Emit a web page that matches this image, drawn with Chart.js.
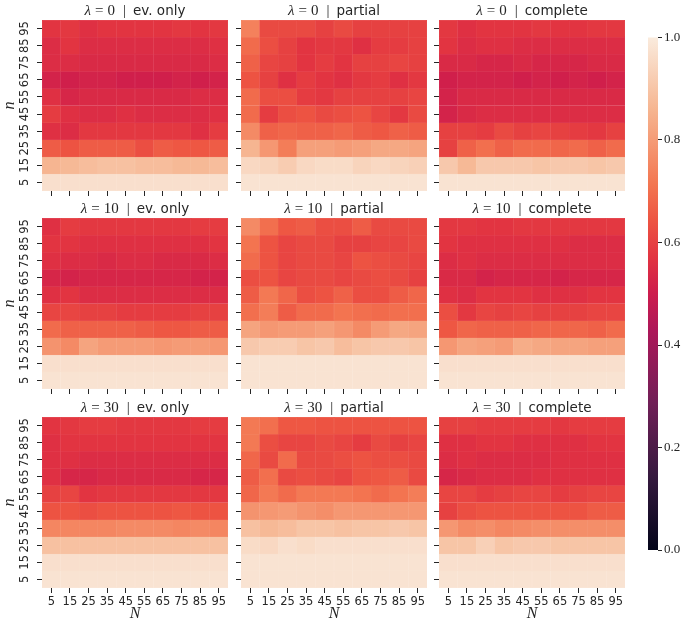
<!DOCTYPE html>
<html>
<head>
<meta charset="utf-8">
<script src="https://cdn.jsdelivr.net/npm/chart.js@4.4.0/dist/chart.umd.min.js"></script>
<style>
  html, body { margin: 0; padding: 0; background: #fff; overflow: hidden; }
  #wrap { position: relative; width: 685px; height: 629px; }
  canvas { position: absolute; }
</style>
</head>
<body>
<div id="wrap"></div>
<script>
// N on the x axis, n on the y axis (rows listed top to bottom: 95 ... 5)
const bigN = ['5', '15', '25', '35', '45', '55', '65', '75', '85', '95'];
const smallN = ['95', '85', '75', '65', '55', '45', '35', '25', '15', '5'];
const lambdas = ['0', '10', '30'];
const modes = ['ev. only', 'partial', 'complete'];

// λ = 0
const evOnly0 = [
  [0.57, 0.58, 0.56, 0.57, 0.57, 0.57, 0.57, 0.58, 0.57, 0.58],
  [0.55, 0.57, 0.55, 0.55, 0.55, 0.55, 0.55, 0.55, 0.55, 0.56],
  [0.55, 0.55, 0.54, 0.54, 0.54, 0.54, 0.54, 0.54, 0.54, 0.55],
  [0.52, 0.51, 0.52, 0.52, 0.51, 0.51, 0.51, 0.52, 0.51, 0.52],
  [0.56, 0.53, 0.54, 0.54, 0.54, 0.54, 0.54, 0.54, 0.55, 0.55],
  [0.59, 0.56, 0.55, 0.55, 0.56, 0.55, 0.55, 0.55, 0.55, 0.56],
  [0.56, 0.55, 0.58, 0.58, 0.58, 0.58, 0.58, 0.58, 0.56, 0.59],
  [0.66, 0.64, 0.66, 0.66, 0.66, 0.63, 0.66, 0.65, 0.65, 0.66],
  [0.86, 0.87, 0.88, 0.89, 0.89, 0.88, 0.88, 0.87, 0.87, 0.88],
  [0.97, 0.97, 0.97, 0.97, 0.97, 0.97, 0.97, 0.97, 0.97, 0.97]
];
const partial0 = [
  [0.74, 0.62, 0.62, 0.62, 0.60, 0.62, 0.60, 0.60, 0.60, 0.60],
  [0.69, 0.63, 0.60, 0.57, 0.58, 0.58, 0.56, 0.59, 0.59, 0.60],
  [0.67, 0.61, 0.60, 0.57, 0.59, 0.57, 0.60, 0.60, 0.61, 0.60],
  [0.64, 0.60, 0.56, 0.59, 0.57, 0.56, 0.58, 0.59, 0.56, 0.58],
  [0.69, 0.63, 0.63, 0.59, 0.58, 0.60, 0.60, 0.60, 0.60, 0.61],
  [0.69, 0.59, 0.63, 0.64, 0.62, 0.63, 0.64, 0.61, 0.58, 0.62],
  [0.76, 0.67, 0.68, 0.67, 0.67, 0.68, 0.66, 0.65, 0.67, 0.66],
  [0.86, 0.79, 0.73, 0.81, 0.81, 0.80, 0.81, 0.83, 0.83, 0.82],
  [0.95, 0.94, 0.92, 0.95, 0.96, 0.96, 0.94, 0.95, 0.94, 0.93],
  [0.98, 0.98, 0.98, 0.98, 0.98, 0.98, 0.98, 0.98, 0.98, 0.98]
];
const complete0 = [
  [0.58, 0.56, 0.57, 0.57, 0.57, 0.58, 0.57, 0.57, 0.58, 0.58],
  [0.57, 0.55, 0.56, 0.56, 0.55, 0.55, 0.55, 0.55, 0.55, 0.55],
  [0.54, 0.54, 0.53, 0.53, 0.54, 0.53, 0.53, 0.53, 0.54, 0.54],
  [0.51, 0.52, 0.52, 0.52, 0.51, 0.52, 0.51, 0.52, 0.51, 0.52],
  [0.52, 0.54, 0.54, 0.54, 0.54, 0.54, 0.54, 0.54, 0.54, 0.54],
  [0.52, 0.54, 0.55, 0.55, 0.55, 0.55, 0.55, 0.55, 0.55, 0.55],
  [0.60, 0.60, 0.59, 0.62, 0.60, 0.61, 0.60, 0.59, 0.58, 0.60],
  [0.60, 0.67, 0.70, 0.67, 0.69, 0.69, 0.68, 0.69, 0.67, 0.69],
  [0.91, 0.87, 0.91, 0.91, 0.91, 0.90, 0.91, 0.91, 0.90, 0.91],
  [0.98, 0.98, 0.98, 0.98, 0.98, 0.98, 0.98, 0.98, 0.98, 0.98]
];

// λ = 10
const evOnly10 = [
  [0.56, 0.59, 0.58, 0.58, 0.58, 0.58, 0.58, 0.58, 0.59, 0.59],
  [0.57, 0.57, 0.56, 0.56, 0.56, 0.56, 0.56, 0.56, 0.56, 0.57],
  [0.56, 0.55, 0.55, 0.54, 0.55, 0.55, 0.54, 0.54, 0.54, 0.55],
  [0.53, 0.52, 0.53, 0.53, 0.53, 0.53, 0.53, 0.53, 0.52, 0.52],
  [0.56, 0.57, 0.55, 0.55, 0.55, 0.55, 0.55, 0.55, 0.55, 0.55],
  [0.61, 0.61, 0.60, 0.60, 0.59, 0.59, 0.59, 0.59, 0.60, 0.60],
  [0.69, 0.67, 0.67, 0.67, 0.67, 0.66, 0.65, 0.65, 0.66, 0.66],
  [0.78, 0.76, 0.82, 0.80, 0.80, 0.80, 0.79, 0.80, 0.80, 0.79],
  [0.97, 0.97, 0.97, 0.97, 0.97, 0.97, 0.97, 0.97, 0.97, 0.97],
  [0.98, 0.98, 0.98, 0.98, 0.98, 0.98, 0.98, 0.98, 0.98, 0.98]
];
const partial10 = [
  [0.76, 0.70, 0.65, 0.66, 0.63, 0.63, 0.66, 0.62, 0.62, 0.62],
  [0.71, 0.64, 0.61, 0.62, 0.62, 0.60, 0.60, 0.61, 0.61, 0.62],
  [0.69, 0.64, 0.61, 0.62, 0.62, 0.61, 0.64, 0.63, 0.62, 0.61],
  [0.63, 0.64, 0.61, 0.62, 0.62, 0.61, 0.62, 0.63, 0.62, 0.60],
  [0.66, 0.72, 0.68, 0.63, 0.64, 0.67, 0.63, 0.63, 0.66, 0.68],
  [0.70, 0.73, 0.66, 0.69, 0.69, 0.71, 0.70, 0.69, 0.70, 0.70],
  [0.82, 0.79, 0.80, 0.80, 0.81, 0.79, 0.76, 0.80, 0.83, 0.82],
  [0.91, 0.92, 0.92, 0.90, 0.91, 0.88, 0.90, 0.91, 0.91, 0.90],
  [0.98, 0.98, 0.98, 0.98, 0.98, 0.98, 0.98, 0.98, 0.98, 0.98],
  [0.98, 0.98, 0.98, 0.98, 0.98, 0.98, 0.98, 0.98, 0.98, 0.98]
];
const complete10 = [
  [0.58, 0.58, 0.57, 0.57, 0.58, 0.58, 0.58, 0.58, 0.58, 0.58],
  [0.57, 0.56, 0.56, 0.56, 0.56, 0.56, 0.56, 0.55, 0.55, 0.55],
  [0.55, 0.56, 0.55, 0.55, 0.55, 0.55, 0.55, 0.55, 0.55, 0.55],
  [0.54, 0.54, 0.52, 0.53, 0.53, 0.53, 0.52, 0.53, 0.53, 0.53],
  [0.56, 0.55, 0.57, 0.57, 0.57, 0.56, 0.56, 0.56, 0.57, 0.57],
  [0.63, 0.58, 0.61, 0.60, 0.61, 0.60, 0.60, 0.60, 0.61, 0.61],
  [0.65, 0.68, 0.67, 0.67, 0.67, 0.68, 0.68, 0.68, 0.67, 0.69],
  [0.79, 0.82, 0.81, 0.80, 0.84, 0.83, 0.82, 0.82, 0.81, 0.81],
  [0.97, 0.97, 0.97, 0.97, 0.97, 0.97, 0.97, 0.97, 0.97, 0.97],
  [0.98, 0.98, 0.98, 0.98, 0.98, 0.98, 0.98, 0.98, 0.98, 0.98]
];

// λ = 30
const evOnly30 = [
  [0.57, 0.58, 0.59, 0.59, 0.58, 0.58, 0.58, 0.58, 0.59, 0.59],
  [0.56, 0.57, 0.57, 0.57, 0.57, 0.57, 0.57, 0.57, 0.57, 0.57],
  [0.56, 0.56, 0.55, 0.55, 0.55, 0.55, 0.55, 0.55, 0.55, 0.55],
  [0.56, 0.53, 0.53, 0.54, 0.54, 0.54, 0.54, 0.54, 0.53, 0.53],
  [0.60, 0.61, 0.57, 0.58, 0.58, 0.58, 0.58, 0.58, 0.58, 0.58],
  [0.64, 0.64, 0.63, 0.64, 0.64, 0.64, 0.64, 0.65, 0.64, 0.64],
  [0.75, 0.75, 0.75, 0.75, 0.76, 0.76, 0.76, 0.75, 0.76, 0.75],
  [0.89, 0.89, 0.89, 0.89, 0.89, 0.89, 0.89, 0.89, 0.89, 0.89],
  [0.97, 0.97, 0.97, 0.97, 0.97, 0.97, 0.97, 0.97, 0.97, 0.97],
  [0.98, 0.98, 0.98, 0.98, 0.98, 0.98, 0.98, 0.98, 0.98, 0.98]
];
const partial30 = [
  [0.72, 0.70, 0.65, 0.65, 0.64, 0.64, 0.64, 0.64, 0.64, 0.64],
  [0.72, 0.63, 0.61, 0.61, 0.62, 0.61, 0.59, 0.62, 0.60, 0.61],
  [0.68, 0.62, 0.69, 0.62, 0.62, 0.63, 0.64, 0.63, 0.63, 0.62],
  [0.66, 0.70, 0.62, 0.63, 0.62, 0.61, 0.64, 0.65, 0.66, 0.62],
  [0.68, 0.72, 0.69, 0.72, 0.72, 0.72, 0.71, 0.69, 0.71, 0.73],
  [0.78, 0.79, 0.80, 0.78, 0.77, 0.79, 0.79, 0.79, 0.79, 0.79],
  [0.89, 0.87, 0.88, 0.90, 0.90, 0.89, 0.90, 0.90, 0.91, 0.90],
  [0.96, 0.95, 0.97, 0.96, 0.97, 0.97, 0.97, 0.97, 0.97, 0.97],
  [0.98, 0.98, 0.98, 0.98, 0.98, 0.98, 0.98, 0.98, 0.98, 0.98],
  [0.98, 0.98, 0.98, 0.98, 0.98, 0.98, 0.98, 0.98, 0.98, 0.98]
];
const complete30 = [
  [0.60, 0.60, 0.59, 0.59, 0.59, 0.59, 0.58, 0.59, 0.59, 0.59],
  [0.56, 0.56, 0.57, 0.57, 0.56, 0.56, 0.56, 0.56, 0.57, 0.57],
  [0.55, 0.56, 0.55, 0.55, 0.55, 0.55, 0.56, 0.56, 0.56, 0.56],
  [0.53, 0.54, 0.55, 0.55, 0.55, 0.56, 0.56, 0.56, 0.56, 0.56],
  [0.61, 0.61, 0.59, 0.60, 0.61, 0.61, 0.59, 0.60, 0.61, 0.61],
  [0.60, 0.63, 0.64, 0.64, 0.64, 0.64, 0.64, 0.64, 0.66, 0.66],
  [0.79, 0.76, 0.77, 0.75, 0.76, 0.77, 0.77, 0.77, 0.77, 0.77],
  [0.90, 0.90, 0.93, 0.90, 0.91, 0.91, 0.90, 0.90, 0.90, 0.90],
  [0.97, 0.97, 0.97, 0.97, 0.97, 0.97, 0.97, 0.97, 0.97, 0.97],
  [0.98, 0.98, 0.98, 0.98, 0.98, 0.98, 0.98, 0.98, 0.98, 0.98]
];

const grids = [
  [evOnly0, partial0, complete0],
  [evOnly10, partial10, complete10],
  [evOnly30, partial30, complete30]
];

// seaborn "rocket" colour map, sampled
const rocketStops = [
  [0.0, [3, 5, 26]],
  [0.143, [53, 25, 62]],
  [0.286, [112, 31, 87]],
  [0.429, [173, 23, 89]],
  [0.5, [205, 28, 77]],
  [0.571, [226, 52, 65]],
  [0.643, [237, 84, 66]],
  [0.714, [243, 118, 81]],
  [0.857, [246, 180, 143]],
  [1.0, [250, 235, 221]]
];

function rocketRgb(v) {
  v = Math.max(0, Math.min(1, v));
  for (let i = 1; i < rocketStops.length; i++) {
    const [p1, c1] = rocketStops[i];
    const [p0, c0] = rocketStops[i - 1];
    if (v <= p1) {
      const t = (v - p0) / (p1 - p0);
      return c0.map((a, k) => a + (c1[k] - a) * t);
    }
  }
  return rocketStops[rocketStops.length - 1][1];
}
const rocket = v => 'rgb(' + rocketRgb(v).map(Math.round).join(',') + ')';
// faint lighter seam between cells, as in the original render
const seam = v => 'rgb(' + rocketRgb(v).map(a => Math.round(a + (255 - a) * 0.1)).join(',') + ')';

const ink = '#262626';
const sans = '"DejaVu Sans", sans-serif';
const serif = '"Liberation Serif", "DejaVu Serif", serif';

const plotLefts = [42, 241, 439];
const plotTops = [20, 218, 417];
const plotW = 186, plotH = 171;
const padL = 42, padT = 24, padR = 6, padB = 48;

const wrap = document.getElementById('wrap');

function addCanvas(left, top, w, h) {
  const c = document.createElement('canvas');
  c.width = w; c.height = h;
  c.style.left = left + 'px';
  c.style.top = top + 'px';
  c.style.width = w + 'px';
  c.style.height = h + 'px';
  wrap.appendChild(c);
  return c;
}

// title "λ = 0 | ev. only" with math part in serif
function drawTitle(ctx, cx, baseY, lam, mode) {
  const parts = [
    { t: 'λ', f: 'italic 15px ' + serif, gap: 4 },
    { t: '=', f: '15px ' + serif, gap: 4 },
    { t: lam, f: '15px ' + serif, gap: 8 },
    { t: '|', f: '15px ' + serif, gap: 7 },
    { t: mode, f: '13.5px ' + sans, gap: 0 }
  ];
  let total = 0;
  parts.forEach(p => { ctx.font = p.f; p.w = ctx.measureText(p.t).width; total += p.w + p.gap; });
  let x = cx - total / 2;
  ctx.fillStyle = ink;
  ctx.textAlign = 'left';
  ctx.textBaseline = 'alphabetic';
  parts.forEach(p => { ctx.font = p.f; ctx.fillText(p.t, x, baseY); x += p.w + p.gap; });
}

function makePanel(grid, r, c) {
  const left = plotLefts[c] - padL;
  const top = plotTops[r] - padT;
  const canvas = addCanvas(left, top, padL + plotW + padR, padT + plotH + padB);
  const isLeft = c === 0;
  const isBottom = r === 2;

  const datasets = grid.map((row, k) => {
    const slot = grid.length - 1 - k;
    return {
      data: row.map(() => [slot, slot + 1]),
      backgroundColor: row.map(rocket),
      borderColor: row.map(seam),
      borderWidth: 0.5,
      borderSkipped: false,
      grouped: false,
      barPercentage: 1,
      categoryPercentage: 1
    };
  });

  const decor = {
    id: 'decor',
    afterDraw(chart) {
      const ctx = chart.ctx;
      const a = chart.chartArea;
      const ys = chart.scales.y;
      ctx.save();
      drawTitle(ctx, (a.left + a.right) / 2, a.top - 5.5, lambdas[r], modes[c]);
      if (isLeft) {
        ctx.font = '11.5px ' + sans;
        ctx.fillStyle = ink;
        ctx.textAlign = 'center';
        ctx.textBaseline = 'middle';
        smallN.forEach((lab, k) => {
          const y = ys.getPixelForValue(smallN.length - 1 - k + 0.5);
          ctx.save();
          ctx.translate(a.left - 17, y);
          ctx.rotate(-Math.PI / 2);
          ctx.fillText(lab, 0, 0);
          ctx.restore();
        });
        ctx.save();
        ctx.font = 'italic 16px ' + serif;
        ctx.translate(9.5, (a.top + a.bottom) / 2);
        ctx.rotate(-Math.PI / 2);
        ctx.fillText('n', 0, 0);
        ctx.restore();
      }
      if (isBottom) {
        ctx.font = 'italic 16px ' + serif;
        ctx.fillStyle = ink;
        ctx.textAlign = 'center';
        ctx.textBaseline = 'middle';
        ctx.fillText('N', (a.left + a.right) / 2, a.bottom + 25.5);
      }
      ctx.restore();
    }
  };

  new Chart(canvas.getContext('2d'), {
    type: 'bar',
    data: { labels: bigN, datasets: datasets },
    options: {
      animation: false,
      responsive: false,
      devicePixelRatio: 1,
      layout: { padding: { left: 0, top: padT, right: padR, bottom: 0 } },
      plugins: { legend: { display: false }, tooltip: { enabled: false } },
      scales: {
        x: {
          type: 'category',
          offset: true,
          border: { display: false },
          grid: { offset: false, drawOnChartArea: false, drawTicks: true, tickLength: 5, color: ink, lineWidth: 1 },
          ticks: { display: isBottom, maxRotation: 0, minRotation: 0, autoSkip: false, padding: 2, color: ink, font: { family: sans, size: 11.5 } },
          afterFit(s) { s.height = padB; }
        },
        y: {
          type: 'linear',
          min: 0,
          max: 10,
          border: { display: false },
          grid: { drawOnChartArea: false, drawTicks: true, tickLength: 5, color: ink, lineWidth: 1 },
          ticks: { display: false },
          afterBuildTicks(s) { s.ticks = smallN.map((_, i) => ({ value: i + 0.5 })); },
          afterFit(s) { s.width = padL; }
        }
      }
    },
    plugins: [decor]
  });
}

for (let r = 0; r < 3; r++) {
  for (let c = 0; c < 3; c++) makePanel(grids[r][c], r, c);
}

// colour bar
const cbTicks = [0, 0.2, 0.4, 0.6, 0.8, 1.0];
const cbCanvas = addCanvas(648, 20, 37, 545);
const gradientBar = {
  id: 'gradientBar',
  beforeDatasetsDraw(chart) {
    const ctx = chart.ctx;
    const a = chart.chartArea;
    const ys = chart.scales.y;
    const g = ctx.createLinearGradient(0, ys.getPixelForValue(0), 0, ys.getPixelForValue(1));
    rocketStops.forEach(([p, col]) => g.addColorStop(p, 'rgb(' + col.join(',') + ')'));
    ctx.save();
    ctx.fillStyle = g;
    ctx.fillRect(a.left, a.top, a.right - a.left, a.bottom - a.top);
    ctx.restore();
  }
};
new Chart(cbCanvas.getContext('2d'), {
  type: 'bar',
  data: { labels: [''], datasets: [] },
  options: {
    animation: false,
    responsive: false,
    devicePixelRatio: 1,
    layout: { padding: { left: 0, top: 17.5, right: 0, bottom: 15 } },
    plugins: { legend: { display: false }, tooltip: { enabled: false } },
    scales: {
      x: { display: false },
      y: {
        position: 'right',
        min: 0,
        max: 1,
        border: { display: false },
        grid: { drawOnChartArea: false, drawTicks: true, tickLength: 4, color: ink, lineWidth: 1 },
        ticks: { padding: 2, color: ink, font: { family: serif, size: 13 }, callback: v => Number(v).toFixed(1) },
        afterBuildTicks(s) { s.ticks = cbTicks.map(v => ({ value: v })); },
        afterFit(s) { s.width = 27; }
      }
    }
  },
  plugins: [gradientBar]
});
</script>
</body>
</html>
